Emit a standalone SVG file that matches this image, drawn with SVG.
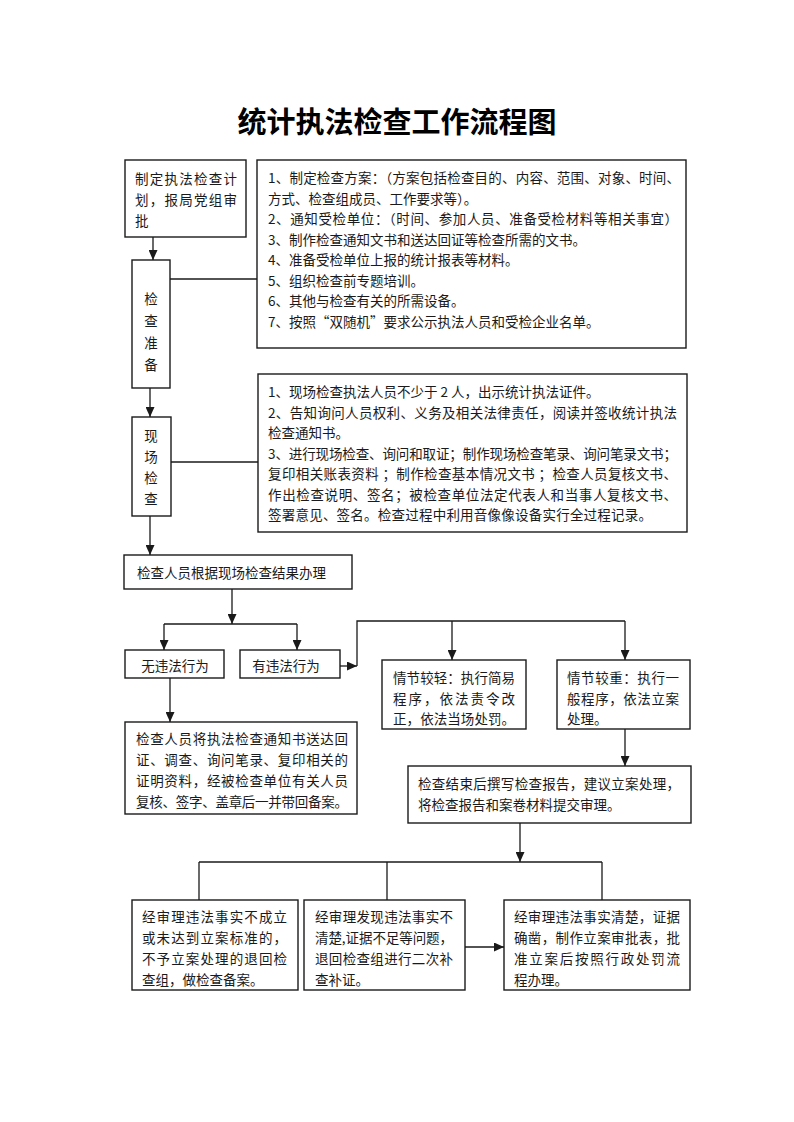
<svg xmlns="http://www.w3.org/2000/svg" width="794" height="1122" viewBox="0 0 794 1122">
<defs>
<style>
.bg{fill:#fff}
.box{fill:#fff;stroke:#1a1a1a;stroke-width:1.4}
.ln{fill:none;stroke:#1a1a1a;stroke-width:1.3}
.t{font-family:"Noto Sans CJK SC","Liberation Sans",sans-serif;font-size:13.5px;fill:#1a1a1a;dominant-baseline:central}
.title{font-family:"Noto Sans CJK SC","Liberation Sans",sans-serif;font-size:29px;font-weight:bold;fill:#000;text-anchor:middle;dominant-baseline:central}
.c{text-anchor:middle}
</style>
<marker id="ah" markerWidth="10" markerHeight="9" viewBox="0 0 10 9" refX="10" refY="4.5" orient="auto" markerUnits="userSpaceOnUse">
<path d="M0,0 L10,4.5 L0,9 z" fill="#1a1a1a"/>
</marker>
</defs>
<rect class="bg" x="0" y="0" width="794" height="1122"/>
<text class="title" x="397" y="120">统计执法检查工作流程图</text>

<g id="connectors">
<path class="ln" d="M153,237 V260" marker-end="url(#ah)"/>
<path class="ln" d="M170,279 H257"/>
<path class="ln" d="M150,388 V417" marker-end="url(#ah)"/>
<path class="ln" d="M171,462 H258"/>
<path class="ln" d="M150,516 V555" marker-end="url(#ah)"/>
<path class="ln" d="M232,589 V624" marker-end="url(#ah)"/>
<path class="ln" d="M164,624 H297"/>
<path class="ln" d="M164,624 V650" marker-end="url(#ah)"/>
<path class="ln" d="M297,624 V650" marker-end="url(#ah)"/>
<path class="ln" d="M170,678 V722" marker-end="url(#ah)"/>
<path class="ln" d="M340,666 H357" marker-end="url(#ah)"/>
<path class="ln" d="M357,666 V621 H625"/>
<path class="ln" d="M452,621 V660" marker-end="url(#ah)"/>
<path class="ln" d="M625,621 V660" marker-end="url(#ah)"/>
<path class="ln" d="M625,729 V766" marker-end="url(#ah)"/>
<path class="ln" d="M520,823 V862" marker-end="url(#ah)"/>
<path class="ln" d="M199,862 H602"/>
<path class="ln" d="M199,862 V900"/>
<path class="ln" d="M387,862 V900"/>
<path class="ln" d="M602,862 V900"/>
<path class="ln" d="M465,947 H504" marker-end="url(#ah)"/>
</g>

<g id="n-plan">
<rect class="box" x="125" y="160" width="121" height="77"/>
<text class="t" x="135" y="178" textLength="102" lengthAdjust="spacing">制定执法检查计</text>
<text class="t" x="135" y="199" textLength="102" lengthAdjust="spacing">划，报局党组审</text>
<text class="t" x="135" y="220">批</text>
</g>

<g id="n-prep">
<rect class="box" x="132" y="260" width="38" height="128"/>
<text class="t c" x="151" y="298">检</text>
<text class="t c" x="151" y="320">查</text>
<text class="t c" x="151" y="342">准</text>
<text class="t c" x="151" y="364">备</text>
</g>

<g id="n-prep-detail">
<rect class="box" x="257" y="160" width="429" height="188"/>
<text class="t" x="268" y="177" textLength="412" lengthAdjust="spacing">1、制定检查方案：（方案包括检查目的、内容、范围、对象、时间、</text>
<text class="t" x="268" y="197.5">方式、检查组成员、工作要求等）。</text>
<text class="t" x="268" y="218" textLength="410" lengthAdjust="spacing">2、通知受检单位：（时间、参加人员、准备受检材料等相关事宜）</text>
<text class="t" x="268" y="238.5">3、制作检查通知文书和送达回证等检查所需的文书。</text>
<text class="t" x="268" y="259">4、准备受检单位上报的统计报表等材料。</text>
<text class="t" x="268" y="279.5">5、组织检查前专题培训。</text>
<text class="t" x="268" y="300">6、其他与检查有关的所需设备。</text>
<text class="t" x="268" y="320.5">7、按照“双随机”要求公示执法人员和受检企业名单。</text>
</g>

<g id="n-onsite">
<rect class="box" x="132" y="417" width="39" height="99"/>
<text class="t c" x="151" y="435">现</text>
<text class="t c" x="151" y="456">场</text>
<text class="t c" x="151" y="477">检</text>
<text class="t c" x="151" y="498">查</text>
</g>

<g id="n-onsite-detail">
<rect class="box" x="258" y="374" width="429" height="158"/>
<text class="t" x="268" y="391">1、现场检查执法人员不少于 2 人，出示统计执法证件。</text>
<text class="t" x="268" y="411.5" textLength="409" lengthAdjust="spacing">2、告知询问人员权利、义务及相关法律责任，阅读并签收统计执法</text>
<text class="t" x="268" y="432">检查通知书。</text>
<text class="t" x="268" y="452.5" textLength="409" lengthAdjust="spacing">3、进行现场检查、询问和取证；制作现场检查笔录、询问笔录文书；</text>
<text class="t" x="268" y="473" textLength="409" lengthAdjust="spacing">复印相关账表资料 ；制作检查基本情况文书 ；检查人员复核文书、</text>
<text class="t" x="268" y="493.5" textLength="409" lengthAdjust="spacing">作出检查说明、签名；被检查单位法定代表人和当事人复核文书、</text>
<text class="t" x="268" y="514" textLength="384" lengthAdjust="spacing">签署意见、签名。检查过程中利用音像像设备实行全过程记录。</text>
</g>

<g id="n-result">
<rect class="box" x="124" y="555" width="228" height="34"/>
<text class="t" x="137" y="572">检查人员根据现场检查结果办理</text>
</g>

<g id="n-nolaw">
<rect class="box" x="125" y="650" width="99" height="28"/>
<text class="t c" x="175" y="665">无违法行为</text>
</g>

<g id="n-law">
<rect class="box" x="240" y="650" width="100" height="28"/>
<text class="t c" x="286" y="665">有违法行为</text>
</g>

<g id="n-nolaw-detail">
<rect class="box" x="125" y="722" width="232" height="92"/>
<text class="t" x="136" y="738" textLength="212" lengthAdjust="spacing">检查人员将执法检查通知书送达回</text>
<text class="t" x="136" y="759" textLength="212" lengthAdjust="spacing">证、调查、询问笔录、复印相关的</text>
<text class="t" x="136" y="780" textLength="212" lengthAdjust="spacing">证明资料，经被检查单位有关人员</text>
<text class="t" x="136" y="801" textLength="212" lengthAdjust="spacing">复核、签字、盖章后一并带回备案。</text>
</g>

<g id="n-light">
<rect class="box" x="382" y="660" width="144" height="69"/>
<text class="t" x="393" y="677" textLength="122" lengthAdjust="spacing">情节较轻：执行简易</text>
<text class="t" x="393" y="698" textLength="122" lengthAdjust="spacing">程序，依法责令改</text>
<text class="t" x="393" y="718" textLength="122" lengthAdjust="spacing">正，依法当场处罚。</text>
</g>

<g id="n-heavy">
<rect class="box" x="557" y="660" width="133" height="69"/>
<text class="t" x="567" y="677" textLength="112" lengthAdjust="spacing">情节较重：执行一</text>
<text class="t" x="567" y="698" textLength="112" lengthAdjust="spacing">般程序，依法立案</text>
<text class="t" x="567" y="718">处理。</text>
</g>

<g id="n-report">
<rect class="box" x="408" y="766" width="283" height="57"/>
<text class="t" x="418" y="783" textLength="262" lengthAdjust="spacing">检查结束后撰写检查报告，建议立案处理，</text>
<text class="t" x="418" y="804">将检查报告和案卷材料提交审理。</text>
</g>

<g id="n-reject">
<rect class="box" x="132" y="900" width="166" height="90"/>
<text class="t" x="142" y="916" textLength="145" lengthAdjust="spacing">经审理违法事实不成立</text>
<text class="t" x="142" y="937" textLength="145" lengthAdjust="spacing">或未达到立案标准的，</text>
<text class="t" x="142" y="958" textLength="145" lengthAdjust="spacing">不予立案处理的退回检</text>
<text class="t" x="142" y="979">查组，做检查备案。</text>
</g>

<g id="n-return">
<rect class="box" x="304" y="900" width="161" height="90"/>
<text class="t" x="315" y="916" textLength="138" lengthAdjust="spacing">经审理发现违法事实不</text>
<text class="t" x="315" y="937" textLength="138" lengthAdjust="spacing">清楚,证据不足等问题，</text>
<text class="t" x="315" y="958" textLength="138" lengthAdjust="spacing">退回检查组进行二次补</text>
<text class="t" x="315" y="979">查补证。</text>
</g>

<g id="n-approve">
<rect class="box" x="504" y="900" width="186" height="90"/>
<text class="t" x="514" y="916" textLength="166" lengthAdjust="spacing">经审理违法事实清楚，证据</text>
<text class="t" x="514" y="937" textLength="166" lengthAdjust="spacing">确凿，制作立案审批表，批</text>
<text class="t" x="514" y="958" textLength="166" lengthAdjust="spacing">准立案后按照行政处罚流</text>
<text class="t" x="514" y="979">程办理。</text>
</g>
</svg>
